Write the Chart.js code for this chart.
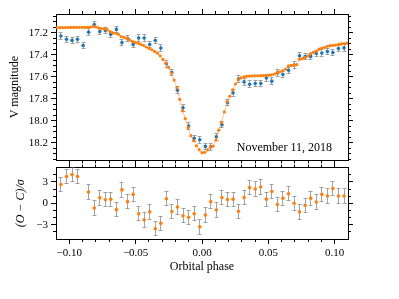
<!DOCTYPE html>
<html><head><meta charset="utf-8">
<script src="https://cdn.jsdelivr.net/npm/chart.js@4"></script>
<style>
html,body{margin:0;padding:0;background:#fff;}
#wrap{position:relative;width:399px;height:299px;overflow:hidden;background:#fff;}
#c1{position:absolute;left:0;top:0;}
#c2{position:absolute;left:0;top:158px;}
</style></head><body>
<div id="wrap"><canvas id="c1" width="399" height="170"></canvas><canvas id="c2" width="399" height="118"></canvas></div>
<script>
// ---------- DATA ----------
const obsPhase = [-0.1063,-0.1021,-0.0979,-0.0938,-0.0896,-0.0854,-0.0812,-0.0770,-0.0728,-0.0687,
 -0.0645,-0.0603,-0.0561,-0.0519,-0.0477,-0.0436,-0.0394,-0.0352,-0.0310,-0.0268,
 -0.0227,-0.0185,-0.0143,-0.0101,-0.0059,-0.0017,0.0025,0.0066,0.0108,0.0150,
 0.0192,0.0234,0.0275,0.0317,0.0359,0.0401,0.0443,0.0485,0.0526,0.0568,
 0.0610,0.0652,0.0694,0.0735,0.0777,0.0819,0.0861,0.0903,0.0945,0.0986,
 0.1028,0.1070];
const obsMag = [17.230,17.260,17.270,17.260,17.316,17.195,17.126,17.190,17.180,17.215,
 17.170,17.290,17.253,17.307,17.248,17.248,17.307,17.271,17.340,17.482,
 17.562,17.722,17.882,18.048,18.160,18.172,18.233,18.237,18.145,18.035,
 17.834,17.747,17.621,17.647,17.668,17.661,17.662,17.612,17.640,17.565,
 17.580,17.542,17.493,17.410,17.417,17.415,17.388,17.385,17.370,17.380,
 17.343,17.338];
const obsErr = 0.03;
const residual = [2.64,3.75,4.02,3.75,6.2,1.57,-0.67,0.76,0.50,0.58,
 -0.89,1.88,0.23,1.25,-1.47,-2.32,-1.20,-3.57,-2.81,0.63,
 -1.15,-0.53,-1.74,-1.96,-1.47,-3.30,-1.65,0.23,-0.93,0.80,
 0.54,0.58,-1.11,0.80,2.19,2.01,2.28,0.58,1.66,-0.17,
 0.72,1.34,0.00,-1.20,-0.27,0.72,0.18,1.25,1.03,2.06,
 1.03,1.03];
const residualErr = 1;
const modelPhase = [-0.1092,-0.1071,-0.1050,-0.1029,-0.1008,-0.0987,-0.0966,-0.0945,-0.0924,-0.0903,
 -0.0882,-0.0861,-0.0840,-0.0819,-0.0798,-0.0777,-0.0756,-0.0735,-0.0714,-0.0693,
 -0.0672,-0.0651,-0.0630,-0.0609,-0.0588,-0.0567,-0.0546,-0.0525,-0.0504,-0.0483,
 -0.0462,-0.0441,-0.0420,-0.0399,-0.0378,-0.0357,-0.0336,-0.0315,-0.0294,-0.0273,
 -0.0252,-0.0231,-0.0210,-0.0189,-0.0168,-0.0147,-0.0126,-0.0105,-0.0084,-0.0063,
 -0.0042,-0.0021,0.0000,0.0021,0.0042,0.0063,0.0084,0.0105,0.0126,0.0147,
 0.0168,0.0189,0.0210,0.0231,0.0252,0.0273,0.0294,0.0315,0.0336,0.0357,
 0.0378,0.0399,0.0420,0.0441,0.0462,0.0483,0.0504,0.0525,0.0546,0.0567,
 0.0588,0.0609,0.0630,0.0651,0.0672,0.0693,0.0714,0.0735,0.0756,0.0777,
 0.0798,0.0819,0.0840,0.0861,0.0882,0.0903,0.0924,0.0945,0.0966,0.0987,
 0.1008,0.1029,0.1050,0.1071,0.1092];
const modelMag = [17.153,17.153,17.153,17.153,17.152,17.152,17.152,17.151,17.151,17.151,
 17.152,17.152,17.148,17.142,17.148,17.158,17.162,17.165,17.172,17.190,
 17.202,17.205,17.215,17.236,17.242,17.252,17.265,17.279,17.288,17.295,
 17.304,17.315,17.330,17.343,17.355,17.370,17.386,17.410,17.443,17.478,
 17.515,17.567,17.630,17.700,17.805,17.910,17.980,18.063,18.135,18.180,
 18.228,18.263,18.290,18.287,18.264,18.238,18.230,18.175,18.085,18.015,
 17.920,17.825,17.777,17.720,17.666,17.628,17.611,17.600,17.596,17.594,
 17.593,17.592,17.591,17.590,17.590,17.588,17.586,17.583,17.575,17.562,
 17.556,17.545,17.530,17.500,17.497,17.495,17.490,17.440,17.435,17.425,
 17.410,17.390,17.378,17.368,17.350,17.340,17.333,17.323,17.318,17.315,
 17.312,17.306,17.302,17.298,17.295];
const phaseTicks = [-0.10,-0.05,0.00,0.05,0.10];
const phaseMinor = [-0.09,-0.08,-0.07,-0.06,-0.04,-0.03,-0.02,-0.01,0.01,0.02,0.03,0.04,0.06,0.07,0.08,0.09];
const magTicks = [17.2,17.4,17.6,17.8,18.0,18.2];
const magMinor = [17.05,17.1,17.15,17.25,17.3,17.35,17.45,17.5,17.55,17.65,17.7,17.75,17.85,17.9,17.95,18.05,18.1,18.15,18.25,18.3,18.35];
const resTicks = [-3,0,3];
const resMinor = [-4,-2,-1,1,2,4];
const dateLabel = 'November 11, 2018';

// ---------- STYLE ----------
const FONT = "'Liberation Serif', 'DejaVu Serif', serif";
const BLUE = '#1f77b4', ORANGE = '#ff7f0e', ERRC = 'rgba(140,140,140,0.8)';
const minus = s => s.replace('-', '\u2212');
const setTicks = arr => s => { s.ticks = arr.map(v => ({value: v})); };
const align = p => Math.round(p - 0.5) + 0.5;

function minorPlugin(spec) {
  return { id: 'minorTicks', afterDraw(chart) {
    const ctx = chart.ctx; ctx.save(); ctx.strokeStyle = '#000'; ctx.lineWidth = 1;
    for (const id in spec) {
      const s = chart.scales[id];
      for (const v of spec[id]) {
        const p = align(s.getPixelForValue(v));
        ctx.beginPath();
        if (s.position === 'left') { const x = chart.chartArea.left; ctx.moveTo(x, p); ctx.lineTo(x - 3, p); }
        else if (s.position === 'right') { const x = chart.chartArea.right; ctx.moveTo(x, p); ctx.lineTo(x + 3, p); }
        else if (s.position === 'top') { const y = chart.chartArea.top; ctx.moveTo(p, y); ctx.lineTo(p, y - 3); }
        else { const y = chart.chartArea.bottom; ctx.moveTo(p, y); ctx.lineTo(p, y + 3); }
        ctx.stroke();
      }
    }
    ctx.restore();
  }};
}
const errorBarPlugin = { id: 'errorBars', beforeDatasetsDraw(chart) {
  const ctx = chart.ctx, a = chart.chartArea;
  ctx.save(); ctx.beginPath(); ctx.rect(a.left, a.top, a.right - a.left, a.bottom - a.top); ctx.clip();
  ctx.strokeStyle = ERRC; ctx.lineWidth = 1;
  chart.data.datasets.forEach((ds, i) => {
    if (ds.errorBar === undefined) return;
    const meta = chart.getDatasetMeta(i), ys = chart.scales[meta.yAxisID];
    meta.data.forEach((pt, j) => {
      const v = ds.data[j].y, e = ds.errorBar;
      const y1 = ys.getPixelForValue(v - e), y2 = ys.getPixelForValue(v + e);
      const x = align(pt.x);
      ctx.beginPath();
      ctx.moveTo(x, y1); ctx.lineTo(x, y2);
      ctx.moveTo(x - 2, align(y1)); ctx.lineTo(x + 2, align(y1));
      ctx.moveTo(x - 2, align(y2)); ctx.lineTo(x + 2, align(y2));
      ctx.stroke();
    });
  });
  ctx.restore();
}};
const labelPlugin = { id: 'dateLabel', afterDraw(chart) {
  const ctx = chart.ctx; ctx.save();
  ctx.font = '12px ' + FONT; ctx.fillStyle = '#000'; ctx.textAlign = 'right'; ctx.textBaseline = 'alphabetic';
  ctx.fillText(dateLabel, chart.chartArea.right - 16, chart.chartArea.bottom - 9);
  ctx.restore();
}};

const axisGrid = { drawOnChartArea: false, drawTicks: true, tickLength: 5, tickColor: '#000', tickWidth: 1 };
const axisBorder = { display: true, color: '#000', width: 1 };
const tickFont = { family: FONT, size: 11 };
const titleFont = { family: FONT, size: 12 };

Chart.defaults.font.family = FONT;

// ---------- TOP PANEL ----------
new Chart(document.getElementById('c1'), {
  type: 'scatter',
  data: { datasets: [
    { label: 'model', data: modelPhase.map((p, i) => ({x: p, y: modelMag[i]})), showLine: true,
      borderColor: 'rgba(255,127,14,0.45)', borderWidth: 1, pointRadius: 1.6, pointBorderWidth: 0,
      pointBackgroundColor: ORANGE, xAxisID: 'x', yAxisID: 'y' },
    { label: 'obs', data: obsPhase.map((p, i) => ({x: p, y: obsMag[i]})), errorBar: obsErr,
      pointRadius: 1.8, pointBorderWidth: 0, pointBackgroundColor: BLUE, xAxisID: 'x', yAxisID: 'y' }
  ]},
  options: {
    responsive: false, animation: false, events: [], layout: { padding: 0 },
    plugins: { legend: { display: false }, tooltip: { enabled: false } },
    scales: {
      x: { type: 'linear', position: 'bottom', min: -0.11, max: 0.11, afterBuildTicks: setTicks(phaseTicks),
           afterFit: s => { s.height = 6; }, ticks: { display: false }, grid: axisGrid, border: axisBorder },
      x2: { type: 'linear', position: 'top', min: -0.11, max: 0.11, afterBuildTicks: setTicks(phaseTicks),
           afterFit: s => { s.height = 14; }, ticks: { display: false }, grid: axisGrid, border: axisBorder },
      y: { type: 'linear', position: 'left', reverse: true, min: 17.03, max: 18.36, afterBuildTicks: setTicks(magTicks),
           afterFit: s => { s.width = 56; },
           ticks: { font: tickFont, color: '#000', padding: 3, callback: v => v.toFixed(1) },
           title: { display: true, text: 'V magnitude', font: titleFont, color: '#000', padding: { top: 8, bottom: 0 } },
           grid: axisGrid, border: axisBorder },
      y2: { type: 'linear', position: 'right', reverse: true, min: 17.03, max: 18.36, afterBuildTicks: setTicks(magTicks),
           afterFit: s => { s.width = 51; }, ticks: { display: false }, grid: axisGrid, border: axisBorder }
    }
  },
  plugins: [errorBarPlugin, minorPlugin({ x: phaseMinor, x2: phaseMinor, y: magMinor, y2: magMinor }), labelPlugin]
});

// ---------- BOTTOM PANEL ----------
new Chart(document.getElementById('c2'), {
  type: 'scatter',
  data: { datasets: [
    { label: 'O-C', data: obsPhase.map((p, i) => ({x: p, y: residual[i]})), errorBar: residualErr,
      pointRadius: 1.8, pointBorderWidth: 0, pointBackgroundColor: ORANGE, xAxisID: 'x', yAxisID: 'y' }
  ]},
  options: {
    responsive: false, animation: false, events: [], layout: { padding: 0 },
    plugins: { legend: { display: false }, tooltip: { enabled: false } },
    scales: {
      x: { type: 'linear', position: 'bottom', min: -0.11, max: 0.11, afterBuildTicks: setTicks(phaseTicks),
           afterFit: s => { s.height = 37; },
           ticks: { font: tickFont, color: '#000', padding: 3, maxRotation: 0, callback: v => minus(v.toFixed(2)) },
           title: { display: true, text: 'Orbital phase', font: titleFont, color: '#000', padding: { top: 0, bottom: 2 } },
           grid: axisGrid, border: axisBorder },
      x2: { type: 'linear', position: 'top', min: -0.11, max: 0.11, afterBuildTicks: setTicks(phaseTicks),
           afterFit: s => { s.height = 6; }, ticks: { display: false }, grid: axisGrid, border: axisBorder },
      y: { type: 'linear', position: 'left', min: -5, max: 5, afterBuildTicks: setTicks(resTicks),
           afterFit: s => { s.width = 56; },
           ticks: { font: tickFont, color: '#000', padding: 3, callback: v => minus(String(v)) },
           title: { display: true, text: '(O \u2212 C)/\u03c3', font: { family: FONT, size: 12, style: 'italic' }, color: '#000', padding: { top: 14, bottom: 0 } },
           grid: axisGrid, border: axisBorder },
      y2: { type: 'linear', position: 'right', min: -5, max: 5, afterBuildTicks: setTicks(resTicks),
           afterFit: s => { s.width = 51; }, ticks: { display: false }, grid: axisGrid, border: axisBorder }
    }
  },
  plugins: [errorBarPlugin, minorPlugin({ x: phaseMinor, x2: phaseMinor, y: resMinor, y2: resMinor })]
});
</script>
</body></html>
